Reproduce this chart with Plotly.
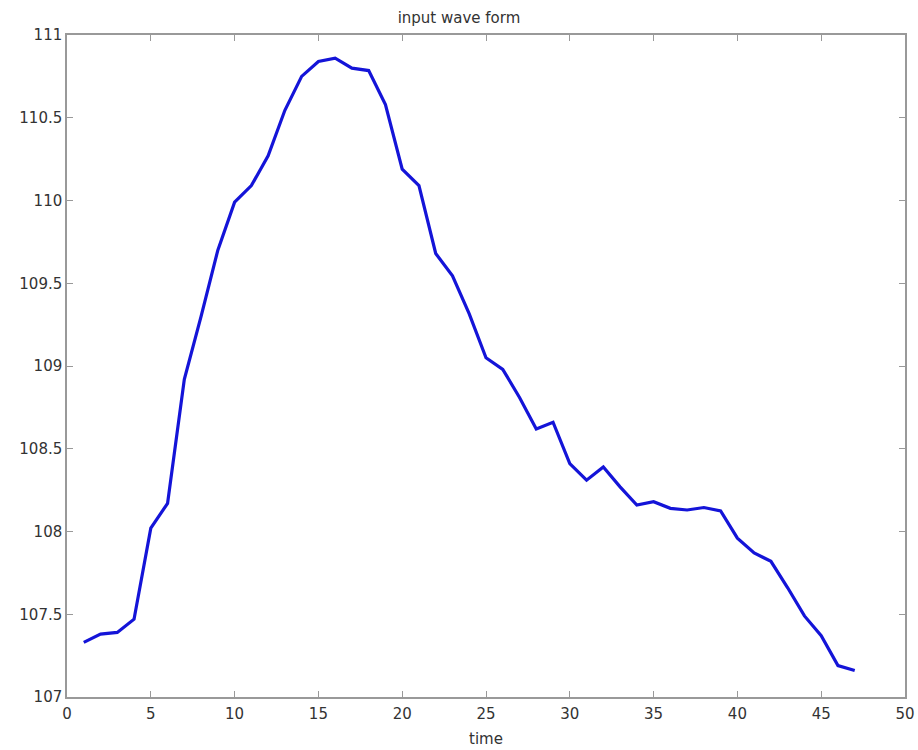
import plotly.graph_objects as go

time = list(range(1, 48))
values = [107.33, 107.38, 107.39, 107.47, 108.02, 108.17, 108.92, 109.30, 109.70, 109.99,
          110.09, 110.27, 110.545, 110.75, 110.84, 110.86, 110.80, 110.785, 110.58, 110.19,
          110.09, 109.68, 109.545, 109.315, 109.05, 108.98, 108.81, 108.62, 108.66, 108.41,
          108.31, 108.39, 108.27, 108.16, 108.18, 108.14, 108.13, 108.145, 108.125, 107.96,
          107.87, 107.82, 107.66, 107.49, 107.37, 107.19, 107.16]
x_ticks = list(range(0, 51, 5))
y_ticks = [107, 107.5, 108, 108.5, 109, 109.5, 110, 110.5, 111]
y_ticklabels = ["107", "107.5", "108", "108.5", "109", "109.5", "110", "110.5", "111"]

FONT = "DejaVu Sans, Arial"
TXT = "#333333"

fig = go.Figure()
fig.add_trace(go.Scatter(x=time, y=values, mode="lines",
                         line=dict(color="#1414d8", width=3.2), showlegend=False))

axis_common = dict(showgrid=False, zeroline=False, showline=True, linecolor="#999999",
                   linewidth=1.5, mirror="ticks", ticks="inside", ticklen=6,
                   tickcolor="#999999", tickwidth=1, automargin=False,
                   tickfont=dict(family=FONT, size=15, color=TXT))

fig.update_xaxes(range=[0, 50], tickvals=x_ticks, ticklabelstandoff=2,
                 title=dict(text="time", font=dict(family=FONT, size=15, color=TXT),
                            standoff=12),
                 **axis_common)
fig.update_yaxes(range=[107, 111], tickvals=y_ticks, ticktext=y_ticklabels, **axis_common)

fig.update_layout(
    width=918, height=750,
    margin=dict(l=67, r=13, t=35, b=53),
    plot_bgcolor="white", paper_bgcolor="white",
    title=dict(text="input wave form", x=0.5, xanchor="center", y=0.977, yanchor="middle",
               font=dict(family=FONT, size=15, color=TXT)),
)

fig.write_html("out.html")
